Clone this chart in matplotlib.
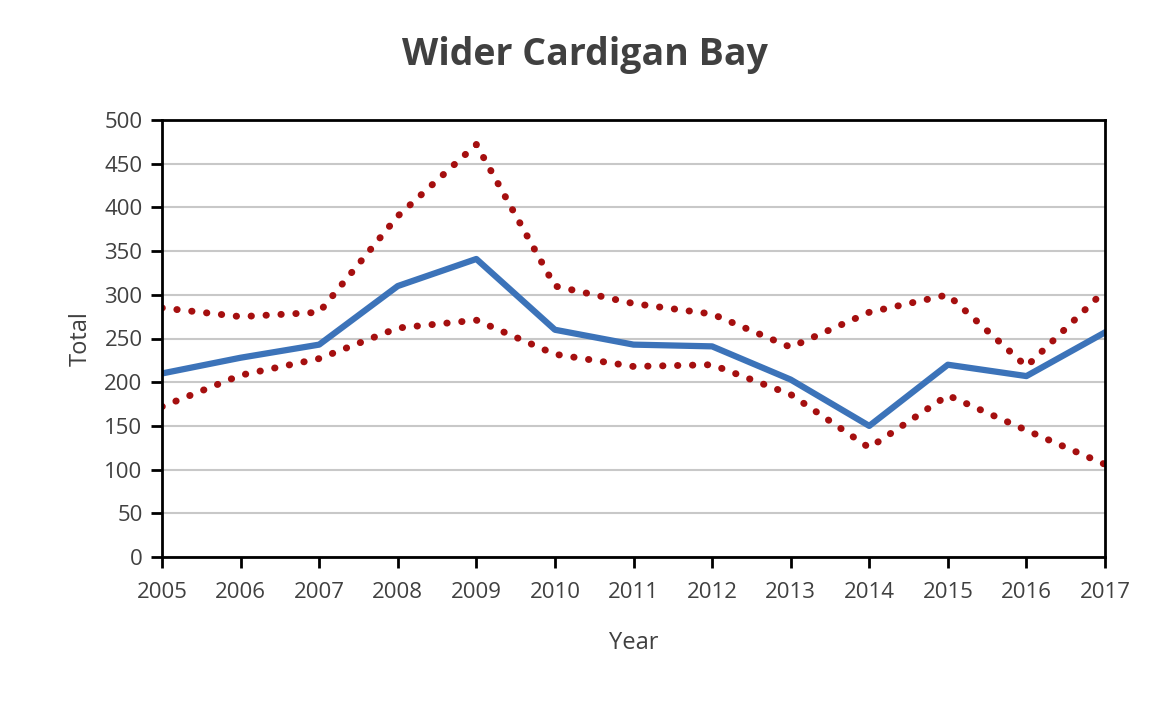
import matplotlib
matplotlib.use('Agg')
import matplotlib.pyplot as plt

plt.rcParams['font.family'] = ['Open Sans', 'DejaVu Sans']

years = [2005, 2006, 2007, 2008, 2009, 2010, 2011, 2012, 2013, 2014, 2015, 2016, 2017]
total = [210, 228, 243, 310, 341, 260, 243, 241, 203, 150, 220, 207, 257]
upper = [285, 275, 280, 390, 472, 310, 290, 278, 240, 280, 300, 218, 305]
lower = [172, 208, 227, 262, 271, 232, 218, 220, 186, 125, 185, 145, 106]

fig = plt.figure(figsize=(11.7, 7.02), dpi=100)
ax = fig.add_axes([162 / 1170, 1 - 557 / 702, (1105 - 162) / 1170, (557 - 120) / 702])

dots = (0, (0.05, 2.1))
ax.plot(years, upper, color='#a50f0f', lw=5, ls=dots, dash_capstyle='round')
ax.plot(years, lower, color='#a50f0f', lw=5, ls=dots, dash_capstyle='round')
ax.plot(years, total, color='#3c73b9', lw=4.5)

ax.set_xlim(2005, 2017)
ax.set_ylim(0, 500)
ax.set_xticks(years)
ax.set_yticks(range(0, 501, 50))
ax.yaxis.grid(True, color='#c8c8c8', lw=1.5)
ax.set_axisbelow(True)
for s in ax.spines.values():
    s.set_color('black')
    s.set_linewidth(2)
ax.tick_params(direction='out', length=8, width=2, labelsize=16, colors='black', labelcolor='#404040')
ax.tick_params(axis='x', pad=10)
ax.tick_params(axis='y', pad=6)

ax.set_xlabel('Year', fontsize=17, color='#404040', labelpad=20)
ax.set_ylabel('Total', fontsize=17, color='#404040', labelpad=8)
fig.text(0.5, 1 - 55 / 702, 'Wider Cardigan Bay', ha='center', va='center',
         fontsize=27, fontweight='bold', color='#404040')

fig.savefig('out.png', dpi=100)
